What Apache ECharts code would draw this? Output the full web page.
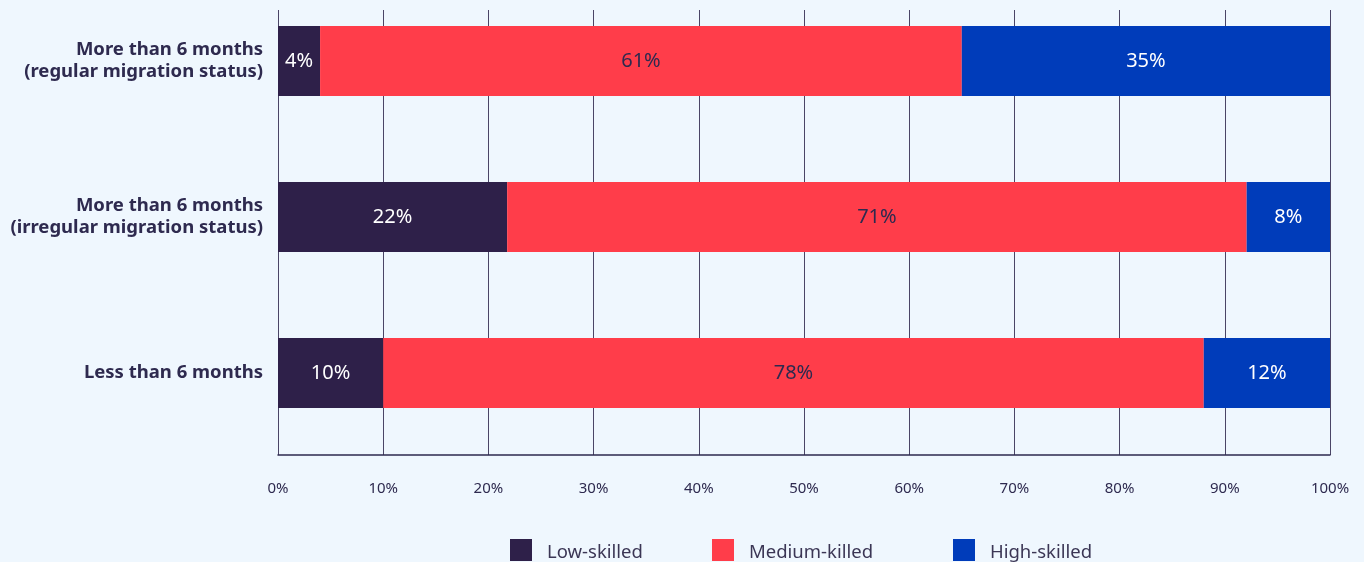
<!DOCTYPE html>
<html>
<head>
<meta charset="utf-8">
<script src="https://cdn.jsdelivr.net/npm/echarts@6/dist/echarts.min.js"></script>
<style>
  html, body { margin: 0; padding: 0; background: #eff7fe; }
  #chart { width: 1364px; height: 562px; }
</style>
</head>
<body>
<div id="chart"></div>
<script>
// Duration groups, listed top to bottom
const categories = [
  'More than 6 months\n(regular migration status)',
  'More than 6 months\n(irregular migration status)',
  'Less than 6 months'
];
const seriesNames = ['Low-skilled', 'Medium-killed', 'High-skilled'];
const lowSkilled = [4, 22, 10];
const mediumSkilled = [61, 71, 78];
const highSkilled = [35, 8, 12];
const xTicks = [0, 10, 20, 30, 40, 50, 60, 70, 80, 90, 100];

const colors = ['#2e2049', '#ff3d4a', '#003cba'];
const labelColors = ['#ffffff', '#2e2a4f', '#ffffff'];
const textColor = '#2e2a4f';
const font = 'Noto Sans';

// Each row is drawn as its share of the row total, so every bar spans 0-100%
const raw = [lowSkilled, mediumSkilled, highSkilled];
const rowTotals = categories.map((_, i) => raw.reduce((s, arr) => s + arr[i], 0));

const series = raw.map((vals, k) => ({
  name: seriesNames[k],
  type: 'bar',
  stack: 'share',
  xAxisIndex: 0,
  yAxisIndex: 0,
  barWidth: 70,
  itemStyle: { color: colors[k] },
  label: {
    show: true,
    position: 'inside',
    fontFamily: font,
    fontSize: 20,
    color: labelColors[k],
    formatter: p => vals[p.dataIndex] + '%'
  },
  data: vals.map((v, i) => v / rowTotals[i] * 100)
}));

const legendLefts = [510, 712, 953];

const option = {
  backgroundColor: '#eff7fe',
  animation: false,
  textStyle: { fontFamily: font },
  legend: seriesNames.map((name, k) => ({
    data: [name],
    left: legendLefts[k],
    top: 539,
    padding: 0,
    icon: 'rect',
    itemWidth: 22,
    itemHeight: 22,
    formatter: n => '{t|' + n + '}',
    textStyle: {
      fontFamily: font,
      fontSize: 18.5,
      color: '#3b3655',
      rich: {
        t: {
          fontFamily: font,
          fontSize: 18.5,
          color: '#3b3655',
          padding: [6, 0, 0, 10]
        }
      }
    }
  })),
  grid: [
    // bars and category labels
    { left: 278, right: 34, top: -17, bottom: 111, outerBoundsMode: 'none' },
    // frame: split lines, bottom axis and tick labels
    { left: 278, right: 34, top: 10, bottom: 107, outerBoundsMode: 'none' }
  ],
  xAxis: [
    { gridIndex: 0, type: 'value', min: 0, max: 100, show: false },
    {
      gridIndex: 1,
      type: 'value',
      min: xTicks[0],
      max: xTicks[xTicks.length - 1],
      interval: 10,
      axisLine: { show: true, lineStyle: { color: '#2e2a4f', width: 1.5 } },
      axisTick: { show: false },
      splitLine: { show: true, lineStyle: { color: '#4a4566', width: 1 } },
      axisLabel: {
        margin: 26,
        fontFamily: font,
        fontSize: 15,
        color: textColor,
        formatter: '{value}%'
      }
    }
  ],
  yAxis: [
    {
      gridIndex: 0,
      type: 'category',
      inverse: true,
      data: categories,
      axisLine: { show: false },
      axisTick: { show: false },
      axisLabel: {
        margin: 15,
        fontFamily: font,
        fontSize: 18.5,
        fontWeight: 'bold',
        lineHeight: 22,
        color: textColor
      }
    },
    { gridIndex: 1, type: 'value', show: false }
  ],
  series: series
};

const chart = echarts.init(document.getElementById('chart'), null, { renderer: 'canvas' });
chart.setOption(option);
</script>
</body>
</html>
